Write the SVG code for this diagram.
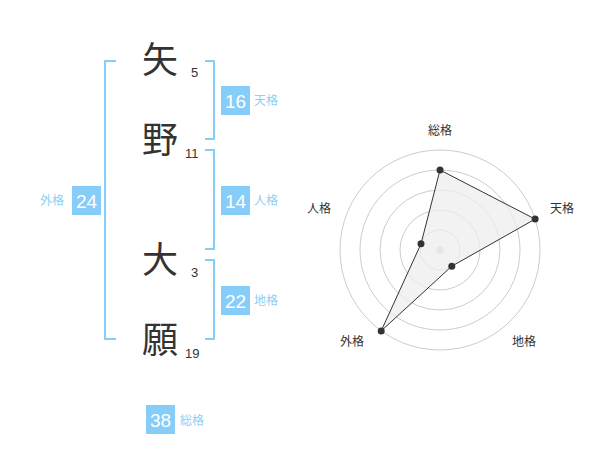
<svg xmlns="http://www.w3.org/2000/svg" width="600" height="470" viewBox="0 0 600 470">
<style>
.ch{font-family:"Noto Sans CJK JP","Noto Sans CJK SC",sans-serif;font-size:36px;fill:#333;text-anchor:middle}
.num{font-family:"Liberation Sans",Arial,sans-serif;font-size:13px;fill:#333}
.box{fill:#86cdf9}
.bn{font-family:"Liberation Sans",Arial,sans-serif;font-size:19px;fill:#fff;text-anchor:middle}
.lb{font-family:"Noto Sans CJK JP","Noto Sans CJK SC",sans-serif;font-size:12px;fill:#8ccff7}
.br{fill:none;stroke:#86cdf9;stroke-width:2}
.ring{fill:none;stroke:#ccc;stroke-width:1}
.rl{font-family:"Noto Sans CJK JP","Noto Sans CJK SC",sans-serif;font-size:12px;fill:#333;text-anchor:middle}
.pt{fill:#333}
</style>
<rect width="600" height="470" fill="#fff"/>
<g id="connectors">
<path class="br" d="M116,61 H105 V339 H116"/>
<path class="br" d="M205,61 H214 V139 H205"/>
<path class="br" d="M205,150 H214 V249 H205"/>
<path class="br" d="M205,260 H214 V339 H205"/>
</g>
<g id="char1"><text class="ch" x="160" y="73">矢</text><text class="num" x="191" y="77">5</text></g>
<g id="char2"><text class="ch" x="160" y="153">野</text><text class="num" x="185" y="158">11</text></g>
<g id="char3"><text class="ch" x="160" y="273">大</text><text class="num" x="191" y="277">3</text></g>
<g id="char4"><text class="ch" x="160" y="353">願</text><text class="num" x="185" y="358">19</text></g>
<g id="tenkaku"><rect class="box" x="221" y="86" width="29" height="29"/><text class="bn" x="235.5" y="107.5">16</text><text class="lb" x="254" y="105">天格</text></g>
<g id="jinkaku"><rect class="box" x="221" y="186" width="29" height="29"/><text class="bn" x="235.5" y="207.5">14</text><text class="lb" x="254" y="205">人格</text></g>
<g id="chikaku"><rect class="box" x="221" y="286" width="29" height="29"/><text class="bn" x="235.5" y="307.5">22</text><text class="lb" x="254" y="305">地格</text></g>
<g id="gaikaku"><rect class="box" x="72" y="186" width="29" height="29"/><text class="bn" x="86.5" y="207.5">24</text><text class="lb" x="40" y="205">外格</text></g>
<g id="soukaku"><rect class="box" x="146" y="405" width="29" height="29"/><text class="bn" x="160.5" y="426.5">38</text><text class="lb" x="180" y="425">総格</text></g>
<g id="radar">
<circle class="ring" cx="440" cy="250" r="20"/>
<circle class="ring" cx="440" cy="250" r="40"/>
<circle class="ring" cx="440" cy="250" r="60"/>
<circle class="ring" cx="440" cy="250" r="80"/>
<circle class="ring" cx="440" cy="250" r="100"/>
<circle cx="440" cy="250" r="3.5" fill="#ccc"/>
<polygon points="440,170 535.1,219.1 451.8,266.2 381.2,330.9 421,243.8" fill="#eee" fill-opacity="0.75" stroke="#333" stroke-width="1"/>
<circle class="pt" cx="440" cy="170" r="3.5"/>
<circle class="pt" cx="535.1" cy="219.1" r="3.5"/>
<circle class="pt" cx="451.8" cy="266.2" r="3.5"/>
<circle class="pt" cx="381.2" cy="330.9" r="3.5"/>
<circle class="pt" cx="421" cy="243.8" r="3.5"/>
<text class="rl" x="440" y="135">総格</text>
<text class="rl" x="562" y="213">天格</text>
<text class="rl" x="319" y="213">人格</text>
<text class="rl" x="352" y="346">外格</text>
<text class="rl" x="524" y="346">地格</text>
</g>
</svg>
